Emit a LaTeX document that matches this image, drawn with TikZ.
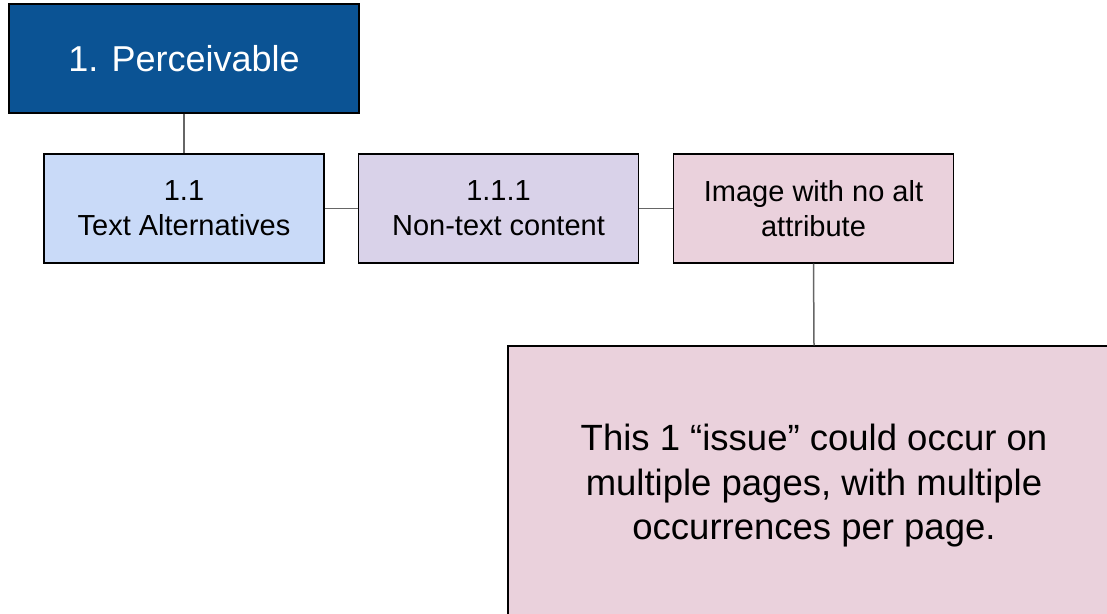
\documentclass[tikz,border=0pt]{standalone}
\usepackage{fontspec}
\setmainfont{Liberation Sans}
\usepackage{tikz}
\usetikzlibrary{positioning}
\definecolor{PercBlue}{HTML}{0B5394}
\definecolor{GuideBlue}{HTML}{C9DAF8}
\definecolor{CritLilac}{HTML}{D9D2E9}
\definecolor{IssuePink}{HTML}{EAD1DC}
\definecolor{LinkGray}{HTML}{666666}

\begin{document}
\begin{tikzpicture}[x=1pt,y=-1pt,
    box/.style={draw=black,line width=1.4pt,inner sep=0pt,align=center},
    smallbox/.style={box,minimum width=280pt,minimum height=109pt,
      font=\fontsize{29}{35}\selectfont},
    link/.style={draw=LinkGray,line width=1.5pt}]
  \clip (0,0) rectangle (1107,613);
  % levels of the tree
  \node[box,fill=PercBlue,text=white,minimum width=350pt,minimum height=109pt,
    font=\fontsize{36}{44}\selectfont] (perc) at (184,58.5) {1. Perceivable};
  \node[smallbox,fill=GuideBlue] (alt) at (184,208.5) {1.1\\Text Alternatives};
  \node[smallbox,fill=CritLilac] (nontext) at (498.5,208.5) {1.1.1\\Non-text content};
  \node[smallbox,fill=IssuePink] (noalt) at (813.5,208.5) {Image with no alt\\attribute};
  \node[box,fill=IssuePink,minimum width=612pt,minimum height=280pt,
    font=\fontsize{36.5}{44.5}\selectfont] (issue) at (814,486)
    {This 1 “issue” could occur on\\multiple pages, with multiple\\occurrences per page.};
  % connectors
  \draw[link] (perc.south) -- (alt.north);
  \draw[link] (alt.east) -- (nontext.west);
  \draw[link] (nontext.east) -- (noalt.west);
  \draw[link] (noalt.south) -- (issue.north);
\end{tikzpicture}
\end{document}
